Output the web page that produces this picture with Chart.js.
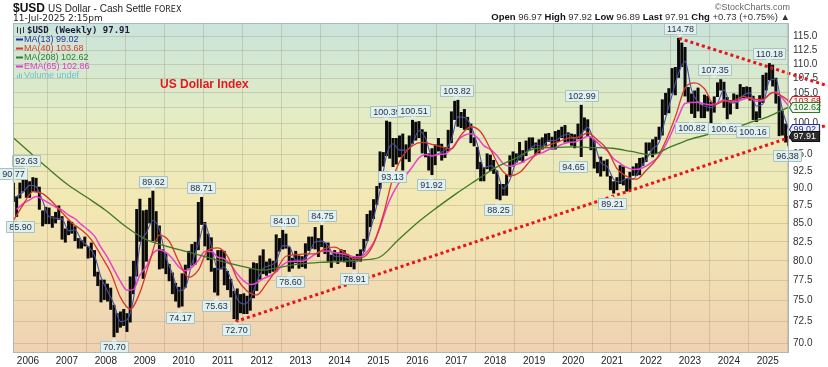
<!DOCTYPE html>
<html><head><meta charset="utf-8">
<script src="https://cdn.jsdelivr.net/npm/chart.js@4.4.1/dist/chart.umd.min.js"></script>
<style>html,body{margin:0;padding:0;background:#fff;}canvas{display:block}</style>
</head><body>
<canvas id="c" width="828" height="367"></canvas>
<script>
// ---------- DATA ----------
const firstBar = { year: 2005, month: 8 };   // monthly bars, Aug 2005 .. Jul 2025
const monthlyLow = [
  88.0, 85.90, 88.5, 89.5, 88.6,
  88.6, 89.5, 89.4, 86.9, 84.6, 84.9, 84.9, 84.4, 85.0, 85.5, 82.8, 82.4,
  83.4, 83.6, 82.6, 81.6, 81.6, 81.9, 80.3, 80.4, 78.0, 76.8, 74.8, 75.1,
  74.9, 73.9, 70.70, 71.2, 71.8, 72.0, 71.3, 72.4, 75.8, 78.0, 82.5, 77.7,
  79.9, 85.0, 82.6, 82.5, 78.9, 79.0, 78.3, 77.4, 75.8, 74.9, 74.17, 74.3,
  76.6, 79.0, 79.4, 79.5, 81.4, 84.8, 81.9, 80.1, 78.6, 76.0, 75.63, 78.9,
  76.9, 76.3, 75.4, 72.8, 72.70, 73.5, 73.4, 73.4, 73.8, 75.3, 76.2, 77.6,
  78.3, 78.1, 78.4, 78.6, 78.6, 81.2, 81.5, 81.6, 78.60, 79.0, 79.7, 79.0,
  79.2, 79.0, 81.3, 81.6, 81.5, 80.5, 81.8, 80.9, 79.9, 79.1, 80.0, 79.6,
  80.0, 79.8, 79.2, 79.2, 78.91, 80.0, 79.9, 81.2, 82.6, 84.5, 85.6, 87.6,
  89.9, 93.2, 94.8, 94.4, 93.13, 93.5, 94.6, 92.6, 94.3, 93.9, 96.7, 97.2,
  97.6, 95.2, 94.6, 92.6, 91.92, 93.4, 95.5, 94.1, 94.5, 95.5, 96.8, 100.5,
  99.4, 99.2, 98.9, 98.9, 96.8, 96.3, 92.8, 91.0, 91.0, 92.8, 92.5, 92.1,
  88.4, 88.25, 88.9, 88.9, 91.7, 93.2, 93.8, 94.1, 93.8, 94.8, 95.7, 96.0,
  95.0, 95.2, 95.8, 96.4, 97.0, 95.8, 95.8, 97.0, 97.6, 96.9, 97.0, 96.4,
  96.0, 97.4, 94.65, 98.8, 97.9, 95.7, 92.9, 92.2, 91.7, 92.5, 91.7, 89.7,
  89.21, 89.7, 90.6, 90.4, 89.5, 89.7, 91.8, 91.8, 91.9, 93.3, 93.9, 95.6,
  94.6, 95.1, 97.3, 98.0, 101.3, 101.6, 104.9, 104.6, 107.6, 109.5, 104.4, 103.4,
  101.5, 100.82, 101.9, 100.8, 100.8, 101.9, 99.58, 101.7, 104.3, 105.4, 102.5, 100.62,
  101.4, 103.4, 102.3, 104.0, 104.1, 104.1, 103.7, 100.5, 100.16, 100.8, 103.3, 105.4,
  107.2, 106.1, 103.2, 97.9, 98.0, 96.9, 96.38
];
const monthlyHigh = [
  90.77, 88.8, 90.8, 92.63, 91.8,
  91.0, 91.6, 91.5, 90.2, 86.8, 87.3, 87.2, 86.0, 86.6, 87.5, 86.0, 84.3,
  85.4, 85.2, 84.6, 83.0, 82.7, 83.2, 81.9, 82.4, 81.4, 78.6, 77.6, 77.6,
  77.1, 76.6, 74.5, 73.5, 73.7, 74.0, 73.5, 78.0, 80.0, 87.0, 88.46, 86.8,
  86.9, 88.6, 89.62, 86.7, 84.7, 81.5, 81.0, 79.6, 78.5, 77.2, 76.7, 78.4,
  79.5, 81.3, 82.2, 82.5, 88.0, 88.71, 85.2, 83.6, 83.1, 79.1, 81.4, 81.4,
  81.3, 78.7, 77.7, 76.2, 76.5, 75.8, 75.9, 75.6, 79.0, 79.8, 79.7, 80.7,
  81.5, 79.9, 80.3, 80.0, 83.5, 83.0, 84.10, 83.6, 81.8, 80.4, 81.3, 80.7,
  80.6, 82.3, 83.2, 83.2, 84.5, 83.0, 84.75, 82.4, 82.4, 80.8, 81.4, 81.1,
  81.5, 81.4, 80.9, 80.5, 80.6, 80.9, 81.5, 82.9, 86.3, 86.8, 88.4, 90.3,
  95.5, 95.4, 100.39, 100.2, 97.6, 97.6, 98.0, 98.3, 96.6, 98.0, 100.51, 100.2,
  100.3, 99.0, 98.6, 95.2, 96.0, 96.6, 97.6, 96.7, 96.2, 98.9, 101.9, 103.65,
  103.82, 101.8, 102.3, 101.0, 99.9, 97.7, 96.2, 93.9, 93.1, 95.2, 95.0, 94.2,
  92.6, 90.6, 90.6, 92.0, 94.9, 95.5, 95.2, 96.98, 95.7, 97.2, 97.7, 97.7,
  96.9, 97.4, 97.7, 98.3, 98.4, 97.8, 98.7, 98.9, 99.4, 99.67, 98.5, 98.3,
  98.2, 99.9, 102.99, 100.9, 100.6, 97.8, 97.3, 93.9, 94.7, 94.1, 94.3, 91.8,
  91.0, 91.6, 93.4, 93.2, 91.4, 92.4, 93.2, 93.7, 94.5, 94.6, 96.9, 96.9,
  97.4, 97.8, 99.4, 103.9, 105.0, 105.8, 109.3, 109.5, 114.78, 113.9, 113.1, 106.0,
  104.9, 105.4, 105.9, 103.0, 104.7, 104.5, 103.5, 104.4, 106.8, 107.35, 106.9, 104.3,
  103.8, 104.9, 104.7, 106.5, 106.0, 106.1, 106.0, 104.5, 101.9, 104.6, 108.1, 108.5,
  110.18, 109.9, 107.6, 104.5, 101.98, 99.9, 97.92
];
const ma13Start = 2005.708, ma13Step = 1 / 6;      // every 2 months from Sep 2005
const ma13 = [
  88.8, 89.4,
  90.4, 90.2, 88.2, 85.9, 85.7, 85.6,
  84.0, 84.1, 82.7, 81.9, 80.7, 77.9,
  76.2, 74.6, 72.5, 72.7, 75.2, 82.0,
  83.7, 85.4, 84.2, 80.5, 78.4, 76.2,
  76.6, 79.6, 82.2, 85.0, 82.0, 78.9,
  79.2, 77.7, 75.2, 74.6, 75.2, 77.3,
  79.0, 79.4, 79.9, 82.0, 81.9, 80.1,
  80.1, 80.9, 82.5, 82.6, 82.0, 80.6,
  80.6, 80.4, 79.8, 80.3, 82.4, 85.7,
  89.6, 94.9, 96.7, 95.7, 95.7, 96.7,
  98.8, 97.6, 94.8, 95.2, 95.7, 97.3,
  101.0, 100.9, 99.6, 96.6, 93.0, 93.3,
  92.5, 89.9, 91.2, 94.0, 94.9, 95.8,
  96.5, 96.3, 97.2, 97.2, 97.9, 98.2,
  97.4, 98.2, 99.3, 97.0, 93.8, 93.2,
  91.3, 90.9, 91.4, 91.3, 92.8, 94.2,
  95.9, 96.9, 100.8, 104.6, 108.4, 110.5,
  105.5, 103.4, 102.8, 102.5, 103.3, 105.5,
  103.3, 103.4, 104.6, 105.0, 102.8, 103.1,
  107.1, 107.4, 102.2
];
const ema65Start = 2005.708, ema65Step = 1 / 6;
const ema65 = [
  86.96, 87.77,
  88.29, 88.80, 88.38, 87.83, 87.29, 86.84,
  86.15, 85.64, 84.83, 84.11, 83.26, 81.76,
  80.44, 78.88, 77.39, 76.28, 76.36, 78.18,
  79.27, 80.95, 81.46, 81.09, 80.31, 79.22,
  78.74, 79.15, 80.05, 81.21, 81.22, 80.47,
  80.25, 79.48, 78.33, 77.45, 76.99, 77.17,
  77.72, 78.06, 78.57, 79.48, 79.91, 79.96,
  79.94, 80.29, 80.86, 81.25, 81.27, 81.06,
  80.93, 80.78, 80.54, 80.54, 81.18, 82.39,
  84.41, 87.14, 89.27, 90.83, 91.90, 93.18,
  94.51, 95.05, 94.80, 95.04, 95.12, 95.87,
  97.27, 98.04, 98.29, 97.68, 96.40, 95.81,
  94.86, 93.62, 93.24, 93.51, 93.88, 94.47,
  94.92, 95.29, 95.81, 96.09, 96.59, 96.91,
  96.98, 97.38, 97.87, 97.39, 96.38, 95.62,
  94.39, 93.68, 93.06, 92.76, 92.81, 93.27,
  93.94, 94.76, 96.49, 98.60, 101.09, 103.21,
  103.38, 103.41, 103.15, 102.95, 103.28, 103.80,
  103.51, 103.57, 103.92, 104.16, 103.58, 103.75,
  104.73, 105.17, 104.09
];
const ma40Start = 2005.625, ma40Step = 0.25;        // quarterly from Aug 2005
const ma40 = [
  85.4, 87.6,
  89.5, 89.2, 88.0, 86.5,
  85.1, 84.1, 82.8, 80.7,
  78.5, 75.4, 74.0, 76.0,
  79.9, 83.4, 82.6, 79.9,
  77.9, 78.8, 81.4, 81.7,
  80.6, 77.7, 76.2, 75.7,
  77.1, 78.8, 80.6, 80.8,
  80.9, 80.9, 81.6, 81.8,
  81.1, 80.3, 80.5, 82.2,
  86.2, 91.5, 94.8, 96.4,
  96.9, 96.6, 96.2, 95.9,
  98.1, 99.4, 98.6, 95.9,
  93.0, 91.8, 92.3, 93.9,
  95.6, 96.5, 97.0, 97.6,
  97.7, 98.4, 97.3, 95.8,
  92.9, 91.7, 91.3, 92.6,
  94.2, 97.1, 101.0, 105.8,
  106.7, 105.7, 103.0, 103.6,
  103.7, 104.4, 103.9, 103.9,
  105.1, 104.4
];
const ma208Start = 2005.5, ma208Step = 0.5;         // half-yearly from mid 2005
const ma208 = [
  98.3, 95.6, 93.0, 90.6, 88.7, 86.8, 84.6, 82.9, 82.0, 81.3,
  80.6, 79.9, 79.3, 78.8, 79.2, 79.6, 79.8, 79.9, 80.1, 80.4,
  82.7, 85.1, 87.2, 89.2, 91.1, 93.0, 94.4, 95.9, 96.1, 96.2,
  96.1, 96.0, 95.5, 95.0, 96.2, 97.4, 98.2, 98.9, 100.0, 101.0
];
const lastDate = 2025.53;
const latest = { open: 96.97, high: 97.92, low: 96.89, close: 97.91, chg: 0.73, chgPct: 0.75,
                 ma13: 99.02, ma40: 103.68, ma208: 102.62, ema65: 102.86 };
const yearTicks = [2006,2007,2008,2009,2010,2011,2012,2013,2014,2015,2016,2017,2018,2019,2020,2021,2022,2023,2024,2025];
const priceTicks = [70,72.5,75,77.5,80,82.5,85,87.5,90,92.5,95,97.5,100,102.5,105,107.5,110,112.5,115];
// pivot labels: [date, value, side]
const pivotLabels = [
  [2005.62, 90.77, 'up'], [2005.96, 92.63, 'up'], [2005.79, 85.90, 'dn'],
  [2008.21, 70.70, 'dn'], [2009.21, 89.62, 'up'], [2009.90, 74.17, 'dn'],
  [2010.45, 88.71, 'up'], [2010.84, 75.63, 'dn'], [2011.34, 72.70, 'dn'],
  [2012.58, 84.10, 'up'], [2012.72, 78.60, 'dn'], [2013.55, 84.75, 'up'],
  [2014.38, 78.91, 'dn'], [2015.20, 100.39, 'up'], [2015.36, 93.13, 'dn'],
  [2015.90, 100.51, 'up'], [2016.34, 91.92, 'dn'], [2017.00, 103.82, 'up'],
  [2018.07, 88.25, 'dn'], [2020.00, 94.65, 'dn'], [2020.22, 102.99, 'up'],
  [2021.00, 89.21, 'dn'], [2022.74, 114.78, 'up'], [2023.05, 100.82, 'dn'],
  [2023.62, 107.35, 'up'], [2023.88, 100.62, 'dn'], [2024.62, 100.16, 'dn'],
  [2025.03, 110.18, 'up'], [2025.50, 96.38, 'dn']
];
// red dotted trend lines: [[date, value], [date, value]]
const trendLines = [
  [[2011.33, 72.5], [2026.54, 99.7]],
  [[2022.72, 114.7], [2026.54, 106.2]]
];

// ---------- BUILD ----------
const barDates = monthlyLow.map((_, i) => firstBar.year + (firstBar.month - 1 + i + 0.5) / 12);
const priceData = barDates.map((t, i) => ({ x: t, y: [monthlyLow[i], monthlyHigh[i]] }));
function series(arr, start, step, last) {
  const pts = arr.map((v, i) => ({ x: start + i * step, y: v }));
  pts.push({ x: lastDate, y: last });
  return pts;
}
const FONT = '"Liberation Sans", Arial, sans-serif';

const bgPlugin = {
  id: 'bg',
  beforeDraw(chart) {
    const { ctx, chartArea: a } = chart;
    const g = ctx.createLinearGradient(0, a.top, 0, a.bottom);
    g.addColorStop(0, '#c9e4dc');
    g.addColorStop(0.28, '#e3ecc4');
    g.addColorStop(0.55, '#f3e8b3');
    g.addColorStop(1, '#efd2b3');
    ctx.save();
    ctx.fillStyle = g;
    ctx.fillRect(a.left, a.top, a.right - a.left, a.bottom - a.top);
    ctx.restore();
  },
  afterDraw(chart) {
    const { ctx, chartArea: a } = chart;
    ctx.save();
    ctx.strokeStyle = '#a7b9b9';
    ctx.lineWidth = 1;
    ctx.strokeRect(a.left + 0.5, a.top + 0.5, a.right - a.left - 1, a.bottom - a.top - 1);
    ctx.restore();
  }
};

const labelPlugin = {
  id: 'labels',
  afterDatasetsDraw(chart) {
    const { ctx } = chart;
    const xs = chart.scales.x, ys = chart.scales.y;
    ctx.save();
    ctx.font = '9px ' + FONT;
    ctx.textAlign = 'center';
    ctx.textBaseline = 'middle';
    for (const [t, v, side] of pivotLabels) {
      const x = xs.getPixelForValue(t), y = ys.getPixelForValue(v);
      const txt = v.toFixed(2);
      const w = Math.round(ctx.measureText(txt).width + 5), h = 11;
      const bx = Math.round(x - w / 2) + 0.5;
      const by = side === 'up' ? Math.round(y - 4 - h) + 0.5 : Math.round(y + 4) + 0.5;
      ctx.fillStyle = '#e3f1ee';
      ctx.strokeStyle = '#a9c3c3';
      ctx.lineWidth = 1;
      ctx.beginPath();
      ctx.rect(bx, by, w, h);
      ctx.fill(); ctx.stroke();
      ctx.beginPath();
      if (side === 'up') { ctx.moveTo(x - 3, by + h); ctx.lineTo(x, by + h + 3); ctx.lineTo(x + 3, by + h); }
      else { ctx.moveTo(x - 3, by); ctx.lineTo(x, by - 3); ctx.lineTo(x + 3, by); }
      ctx.closePath(); ctx.fill();
      ctx.fillStyle = '#1d2b4a';
      ctx.fillText(txt, bx + w / 2, by + h / 2 + 0.5);
    }
    // title
    ctx.font = 'bold 12px ' + FONT;
    ctx.fillStyle = '#e3191c';
    ctx.textAlign = 'left';
    ctx.fillText('US Dollar Index', 160, 85);
    ctx.restore();
  }
};

const textPlugin = {
  id: 'texts',
  afterDraw(chart) {
    const { ctx, chartArea: a } = chart;
    const ys = chart.scales.y;
    ctx.save();
    ctx.textBaseline = 'alphabetic';
    ctx.textAlign = 'left';
    // header left
    ctx.fillStyle = '#111';
    ctx.font = 'bold 12px ' + FONT;
    ctx.fillText('$USD', 13, 12);
    let x = 13 + ctx.measureText('$USD').width + 3;
    ctx.font = '10px ' + FONT;
    ctx.fillStyle = '#222';
    ctx.fillText('US Dollar - Cash Settle', x, 12);
    x += ctx.measureText('US Dollar - Cash Settle').width + 3;
    ctx.font = '8px "DejaVu Sans", Verdana, sans-serif';
    ctx.fillText('FOREX', x, 12);
    ctx.font = '9px "DejaVu Sans", Verdana, sans-serif';
    ctx.fillStyle = '#222';
    ctx.fillText('11-Jul-2025 2:15pm', 13, 21);
    // header right
    ctx.font = '9px ' + FONT;
    ctx.fillStyle = '#666';
    ctx.textAlign = 'right';
    ctx.fillText('\u00A9StockCharts.com', 790, 10);
    const parts = [
      ['Open ', true], [latest.open.toFixed(2) + ' ', false],
      ['High ', true], [latest.high.toFixed(2) + ' ', false],
      ['Low ', true], [latest.low.toFixed(2) + ' ', false],
      ['Last ', true], [latest.close.toFixed(2) + ' ', false],
      ['Chg ', true], ['+' + latest.chg.toFixed(2) + ' (+' + latest.chgPct.toFixed(2) + '%) \u25B2', false]
    ];
    const hf = b => (b ? 'bold ' : '') + '9.5px ' + FONT;
    let total = 0;
    for (const [s, b] of parts) { ctx.font = hf(b); total += ctx.measureText(s).width; }
    ctx.textAlign = 'left';
    let px = 790 - total;
    for (const [s, b] of parts) {
      ctx.font = hf(b);
      ctx.fillStyle = b ? '#111' : '#333';
      ctx.fillText(s, px, 20);
      px += ctx.measureText(s).width;
    }
    // legend in plot
    ctx.font = 'bold 9px "DejaVu Sans Mono", monospace';
    ctx.fillStyle = '#1a1a3a';
    ctx.fillText('$USD (Weekly) ' + latest.close.toFixed(2), 27, 33);
    ctx.fillStyle = '#333';
    ctx.fillRect(17, 27, 1, 6); ctx.fillRect(20, 28, 1, 6); ctx.fillRect(23, 27, 1, 6);
    const rows = [
      ['MA(13) ' + latest.ma13.toFixed(2), '#2a2f9a'],
      ['MA(40) ' + latest.ma40.toFixed(2), '#d8372a'],
      ['MA(208) ' + latest.ma208.toFixed(2), '#2f7d2a'],
      ['EMA(65) ' + latest.ema65.toFixed(2), '#e23ad0']
    ];
    ctx.font = '9px ' + FONT;
    rows.forEach(([s, c], i) => {
      const yy = 42 + i * 9;
      ctx.fillStyle = c;
      ctx.fillRect(16, yy - 3.5, 7, 2);
      ctx.fillText(s, 24, yy);
    });
    ctx.fillStyle = '#6cc0cf';
    ctx.fillRect(17, 75, 1, 3); ctx.fillRect(19, 73, 1, 5); ctx.fillRect(21, 74, 1, 4);
    ctx.fillText('Volume undef', 24, 78);
    // right value tags
    const tags = [
      [latest.ma40, '#c8282a', '#fbf5f0', '#b81e1e'],
      [latest.ma208, '#2f7d2a', '#f1f7ee', '#256b21'],
      [latest.ma13, '#2a2f9a', '#f0f2fa', '#23288a'],
      [latest.close, '#111', '#2b2b2b', '#ffffff']
    ];
    ctx.font = '9px ' + FONT;
    ctx.textBaseline = 'middle';
    for (const [v, border, fill, tc] of tags) {
      const y = Math.round(ys.getPixelForValue(v)) + 0.5;
      const l = a.right + 0.5, w = 30, h = 10;
      ctx.beginPath();
      ctx.moveTo(l, y);
      ctx.lineTo(l + 3, y - h / 2); ctx.lineTo(l + w, y - h / 2);
      ctx.lineTo(l + w, y + h / 2); ctx.lineTo(l + 3, y + h / 2);
      ctx.closePath();
      ctx.fillStyle = fill; ctx.fill();
      ctx.strokeStyle = border; ctx.lineWidth = 1.2; ctx.stroke();
      ctx.fillStyle = tc;
      ctx.fillText(v.toFixed(2), l + 4, y + 0.5);
    }
    ctx.restore();
  }
};

const lineDs = (label, data, color, width) => ({
  type: 'line', label, data, borderColor: color, borderWidth: width,
  pointRadius: 0, fill: false, cubicInterpolationMode: 'monotone', order: 1
});

new Chart(document.getElementById('c'), {
  type: 'bar',
  data: {
    datasets: [
      { type: 'bar', label: '$USD', data: priceData, backgroundColor: '#0a0a0a', borderWidth: 0,
        barPercentage: 0.92, categoryPercentage: 1, order: 3 },
      lineDs('MA(208)', series(ma208, ma208Start, ma208Step, latest.ma208), '#3f7a22', 1.3),
      lineDs('MA(40)', series(ma40, ma40Start, ma40Step, latest.ma40), '#d8372a', 1.3),
      lineDs('EMA(65)', series(ema65, ema65Start, ema65Step, latest.ema65), '#ec3fcf', 1.5),
      lineDs('MA(13)', series(ma13, ma13Start, ma13Step, latest.ma13), '#4a4fa8', 1.1),
      ...trendLines.map((tl, i) => ({
        type: 'line', label: 'trend' + i, data: tl.map(([t, v]) => ({ x: t, y: v })),
        borderColor: '#e8141a', borderWidth: 3, borderDash: [3, 3], borderCapStyle: 'butt',
        pointRadius: 0, fill: false, clip: false, order: 0, tension: 0
      }))
    ]
  },
  options: {
    responsive: false, animation: false, devicePixelRatio: 1,
    layout: { padding: { left: 13, top: 23, right: 0, bottom: 0 } },
    plugins: { legend: { display: false }, tooltip: { enabled: false } },
    scales: {
      x: {
        type: 'linear', min: 2005.615, max: 2025.545, offset: false, bounds: 'data',
        afterBuildTicks: s => { s.ticks = yearTicks.map(v => ({ value: v })); },
        afterFit: s => { s.height = 14; },
        grid: { color: 'rgba(150,140,110,0.30)', drawTicks: false },
        border: { display: false },
        ticks: { callback: v => String(v), font: { size: 10, family: FONT }, color: '#222',
                 padding: 2, maxRotation: 0, autoSkip: false }
      },
      y: {
        type: 'logarithmic', position: 'right', min: 68.91, max: 117.58, bounds: 'data',
        afterBuildTicks: s => { s.ticks = priceTicks.map(v => ({ value: v })); },
        afterFit: s => { s.width = 39; },
        grid: { color: 'rgba(150,140,110,0.30)', drawTicks: false },
        border: { display: false },
        ticks: { callback: v => Number(v).toFixed(1), font: { size: 10, family: FONT }, color: '#333',
                 padding: 4, autoSkip: false }
      }
    }
  },
  plugins: [bgPlugin, labelPlugin, textPlugin]
});
</script>
</body></html>
